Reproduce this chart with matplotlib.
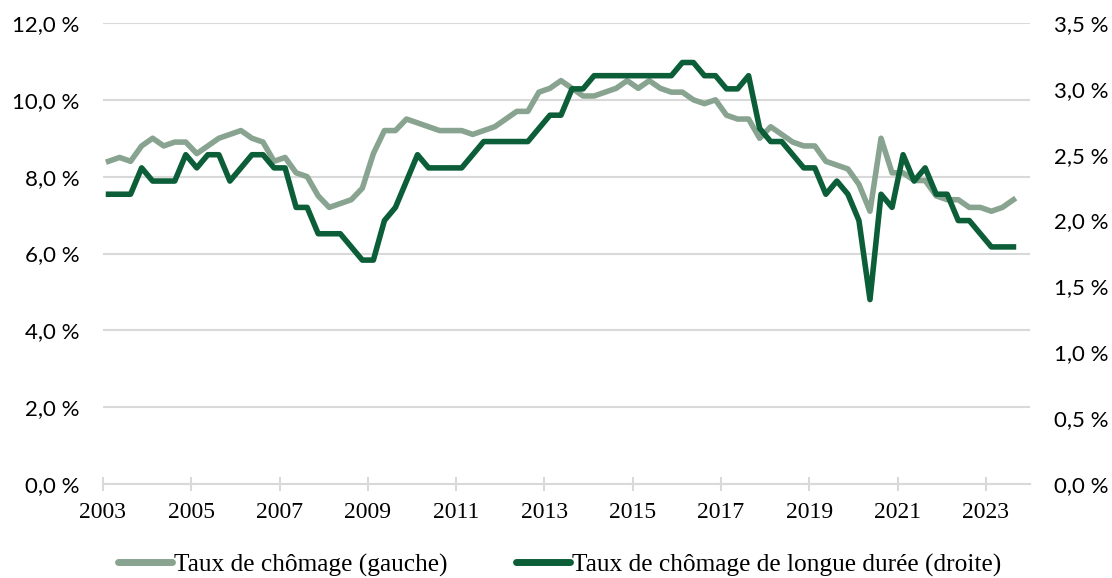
import numpy as np
import matplotlib
matplotlib.use('Agg')
import matplotlib.pyplot as plt
from matplotlib.ticker import FuncFormatter

# quarterly data, 2003Q1 .. 2023Q3
chomage = [8.4, 8.5, 8.4, 8.8, 9.0, 8.8, 8.9, 8.9, 8.6, 8.8,
           9.0, 9.1, 9.2, 9.0, 8.9, 8.4, 8.5, 8.1, 8.0, 7.5,
           7.2, 7.3, 7.4, 7.7, 8.6, 9.2, 9.2, 9.5, 9.4, 9.3,
           9.2, 9.2, 9.2, 9.1, 9.2, 9.3, 9.5, 9.7, 9.7, 10.2,
           10.3, 10.5, 10.3, 10.1, 10.1, 10.2, 10.3, 10.5, 10.3, 10.5,
           10.3, 10.2, 10.2, 10.0, 9.9, 10.0, 9.6, 9.5, 9.5, 9.0,
           9.3, 9.1, 8.9, 8.8, 8.8, 8.4, 8.3, 8.2, 7.8, 7.1,
           9.0, 8.1, 8.1, 7.9, 7.9, 7.5, 7.4, 7.4, 7.2, 7.2,
           7.1, 7.2, 7.4]
longue_duree = [2.2, 2.2, 2.2, 2.4, 2.3, 2.3, 2.3, 2.5, 2.4, 2.5,
                2.5, 2.3, 2.4, 2.5, 2.5, 2.4, 2.4, 2.1, 2.1, 1.9,
                1.9, 1.9, 1.8, 1.7, 1.7, 2.0, 2.1, 2.3, 2.5, 2.4,
                2.4, 2.4, 2.4, 2.5, 2.6, 2.6, 2.6, 2.6, 2.6, 2.7,
                2.8, 2.8, 3.0, 3.0, 3.1, 3.1, 3.1, 3.1, 3.1, 3.1,
                3.1, 3.1, 3.2, 3.2, 3.1, 3.1, 3.0, 3.0, 3.1, 2.7,
                2.6, 2.6, 2.5, 2.4, 2.4, 2.2, 2.3, 2.2, 2.0, 1.4,
                2.2, 2.1, 2.5, 2.3, 2.4, 2.2, 2.2, 2.0, 2.0, 1.9,
                1.8, 1.8, 1.8]
annees = ['2003', '2005', '2007', '2009', '2011', '2013', '2015',
          '2017', '2019', '2021', '2023']

c_clair = '#88a491'
c_fonce = '#0b5e38'
c_grille = '#d9d9d9'
serif = 'Liberation Serif'
sans = 'Lato'

x = np.arange(len(chomage))
n_cat = 84

fig = plt.figure(figsize=(11.12, 5.78), dpi=100)
ax1 = fig.add_axes([103 / 1112, 1 - 484 / 578, 927 / 1112, 461 / 578])
ax2 = ax1.twinx()

ax1.plot(x, chomage, color=c_clair, lw=4, solid_joinstyle='round', zorder=3)
ax2.plot(x, longue_duree, color=c_fonce, lw=4, solid_joinstyle='round', zorder=3)

ax1.set_xlim(-0.5, n_cat - 0.5)
ax1.set_ylim(0, 12)
ax2.set_ylim(0, 3.5)
ax1.set_yticks(np.arange(0, 12.1, 2))
ax2.set_yticks(np.arange(0, 3.51, 0.5))

fmt = FuncFormatter(lambda v, p: ('%.1f' % v).replace('.', ',') + ' %')
ax1.yaxis.set_major_formatter(fmt)
ax2.yaxis.set_major_formatter(fmt)

ax1.set_xticks(np.arange(-0.5, n_cat, 8))
ax1.set_xticklabels(annees, fontfamily=serif, fontsize=17)

ax1.yaxis.grid(True, color=c_grille, lw=1.5)
ax1.set_axisbelow(True)
for a in (ax1, ax2):
    for s in a.spines.values():
        s.set_visible(False)
    a.tick_params(axis='y', length=0, labelsize=16)
    for lab in a.get_yticklabels():
        lab.set_fontfamily(sans)
ax1.spines['bottom'].set_visible(True)
ax1.spines['bottom'].set_color(c_grille)
ax1.spines['bottom'].set_linewidth(1.5)
ax1.tick_params(axis='x', direction='inout', length=10, width=1.5,
                color=c_grille, pad=8, labelcolor='black')
ax1.tick_params(axis='y', pad=17)
ax2.tick_params(axis='y', pad=17)

h1 = plt.Line2D([], [], color=c_clair, lw=5, solid_capstyle='round')
h2 = plt.Line2D([], [], color=c_fonce, lw=5, solid_capstyle='round')
fig.legend([h1, h2], ['Taux de chômage (gauche)',
                      'Taux de chômage de longue durée (droite)'],
           loc='center', bbox_to_anchor=(0.5 + 4 / 1112, 1 - 565 / 578), ncol=2,
           frameon=False, prop={'family': serif, 'size': 18.3},
           handlelength=2.1, handletextpad=0.1, columnspacing=2.7,
           borderpad=0)

fig.savefig('out.png', dpi=100)
